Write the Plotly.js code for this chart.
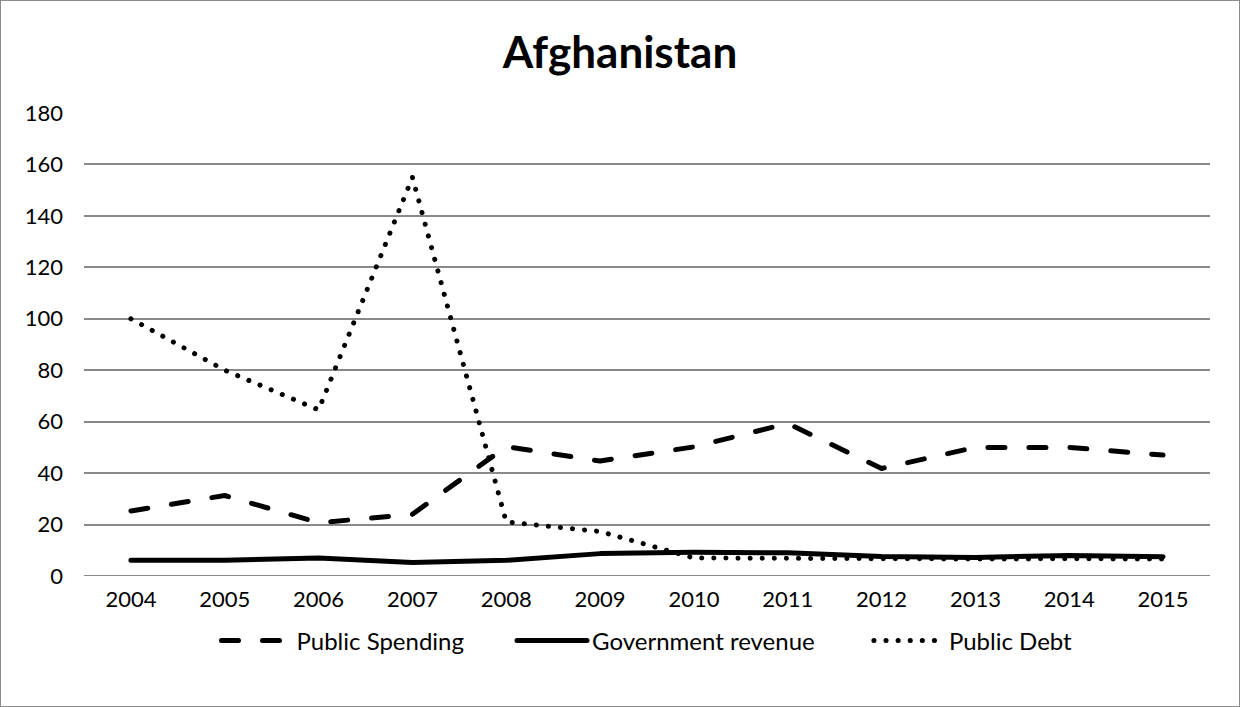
<!DOCTYPE html>
<html>
<head>
<meta charset="utf-8">
<script src="https://cdn.plot.ly/plotly-3.0.1.min.js"></script>
<style>
  html, body { margin: 0; padding: 0; background: #fff; }
  #chart { width: 1238px; height: 705px; border: 1px solid #8c8c8c; }
  path.js-line { stroke-linecap: round; stroke-linejoin: round; }
</style>
</head>
<body>
<div id="chart"></div>
<script>
const years = ['2004','2005','2006','2007','2008','2009','2010','2011','2012','2013','2014','2015'];
const publicSpending = [25.3, 31.3, 20.7, 24, 50.3, 44.7, 50.2, 59.3, 41.8, 50, 50, 47];
const governmentRevenue = [6.1, 6.1, 7, 5.2, 6.1, 8.7, 9.2, 9, 7.6, 7.2, 8, 7.5];
const publicDebt = [100, 80, 64.6, 155, 21, 17.3, 7, 6.8, 6.6, 6.6, 6.7, 6.6];
const yTicks = [0, 20, 40, 60, 80, 100, 120, 140, 160, 180];
const seriesNames = ['Public Spending', 'Government revenue', 'Public Debt'];

const nb = n => '\u00a0'.repeat(n);

const traces = [
  { x: years, y: publicSpending, name: seriesNames[0] + nb(7), type: 'scatter', mode: 'lines',
    line: { color: '#000', width: 5, dash: '17px,24px' } },
  { x: years, y: governmentRevenue, name: seriesNames[1] + nb(8), type: 'scatter', mode: 'lines',
    line: { color: '#000', width: 5 } },
  { x: years, y: publicDebt, name: seriesNames[2], type: 'scatter', mode: 'lines',
    line: { color: '#000', width: 5, dash: '0.1px,12px' } }
];

const layout = {
  width: 1238, height: 705,
  margin: { l: 83, r: 29, t: 112, b: 130 },
  paper_bgcolor: '#fff', plot_bgcolor: '#fff',
  font: { family: 'Lato, sans-serif', size: 22, color: '#000' },
  title: { text: '<b>Afghanistan</b>', x: 0.5, xanchor: 'center', y: 0.927, yanchor: 'middle',
           font: { family: 'Lato, sans-serif', size: 44, color: '#000' } },
  xaxis: { type: 'category', range: [-0.5, 11.5], showgrid: false, zeroline: false, showline: false, ticks: '',
           tickfont: { size: 22 }, ticklabelstandoff: 8 },
  yaxis: { range: [0, 180], tickvals: yTicks, showgrid: true, gridcolor: '#898989', gridwidth: 2,
           zeroline: false, showline: false, ticks: '', tickfont: { size: 22 }, ticklabelstandoff: 20 },
  showlegend: true,
  legend: { orientation: 'h', x: 0.5, xanchor: 'center', y: -0.14, yanchor: 'middle',
            font: { size: 24 }, itemwidth: 70 },
  shapes: [
    { type: 'line', xref: 'paper', yref: 'y', x0: 0, x1: 1, y0: 0, y1: 0,
      line: { color: '#898989', width: 2 }, layer: 'below' }
  ]
};

Plotly.newPlot('chart', traces, layout, { displayModeBar: false, staticPlot: true });
</script>
</body>
</html>
